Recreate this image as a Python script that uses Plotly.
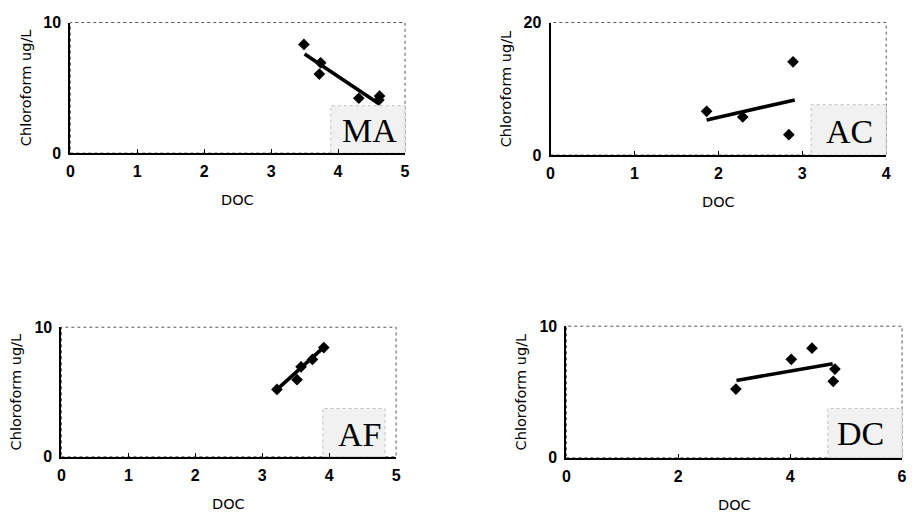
import plotly.graph_objects as go

W, H = 912, 519

# ---- data ----
ma_doc = [3.49, 3.72, 3.74, 4.31, 4.62, 4.61]
ma_chl = [8.32, 6.05, 6.91, 4.20, 4.37, 4.07]
ma_fit_doc = [3.50, 4.61]
ma_fit_chl = [7.58, 3.78]

ac_doc = [1.86, 2.29, 2.89, 2.84]
ac_chl = [6.60, 5.74, 14.06, 3.07]
ac_fit_doc = [1.86, 2.91]
ac_fit_chl = [5.30, 8.32]

af_doc = [3.22, 3.52, 3.58, 3.75, 3.92]
af_chl = [5.20, 5.95, 6.94, 7.51, 8.43]
af_fit_doc = [3.21, 3.93]
af_fit_chl = [5.15, 8.50]

dc_doc = [3.03, 4.02, 4.39, 4.80, 4.77]
dc_chl = [5.22, 7.48, 8.33, 6.74, 5.81]
dc_fit_doc = [3.04, 4.76]
dc_fit_chl = [5.88, 7.15]

site_labels = ["MA", "AC", "AF", "DC"]
x_ranges = [[0, 5], [0, 4], [0, 5], [0, 6]]
y_ranges = [[0, 10], [0, 20], [0, 10], [0, 10]]
x_ticks = [[0, 1, 2, 3, 4, 5], [0, 1, 2, 3, 4], [0, 1, 2, 3, 4, 5], [0, 2, 4, 6]]
y_ticks = [[0, 10], [0, 20], [0, 10], [0, 10]]
x_title = "DOC"
y_title = "Chloroform ug/L"

panels = [
    (ma_doc, ma_chl, ma_fit_doc, ma_fit_chl),
    (ac_doc, ac_chl, ac_fit_doc, ac_fit_chl),
    (af_doc, af_chl, af_fit_doc, af_fit_chl),
    (dc_doc, dc_chl, dc_fit_doc, dc_fit_chl),
]

# ---- layout geometry (pixels) ----
px_boxes = [  # left, right, top, bottom
    (67, 405, 15, 150),
    (552, 891, 15, 152),
    (58, 396, 330, 464),
    (568, 907, 329, 465),
]
label_boxes = [  # x0, x1, y1 as domain fractions
    (0.778, 1.0, 0.363),
    (0.776, 1.0, 0.38),
    (0.781, 0.967, 0.373),
    (0.779, 1.0, 0.375),
]
label_text_pos = [(0.893, 0.175), (0.892, 0.18), (0.89, 0.175), (0.875, 0.185)]

tick_font = dict(family="Liberation Sans Narrow, Liberation Sans, Arial", size=16,
                 color="black", weight="bold")
title_font = dict(family="DejaVu Sans, Arial", size=14.5, color="black")
label_font = dict(family="Liberation Serif, Times New Roman, serif", size=34,
                  color="black")

fig = go.Figure()
layout = dict(
    width=W, height=H,
    margin=dict(l=0, r=0, t=0, b=0),
    paper_bgcolor="white", plot_bgcolor="white",
    showlegend=False,
)
shapes, annotations = [], []

for i, ((xd, yd, fx, fy), (l, r, t, b)) in enumerate(zip(panels, px_boxes)):
    n = i + 1
    xa = "x" if n == 1 else f"x{n}"
    ya = "y" if n == 1 else f"y{n}"
    xkey = "xaxis" if n == 1 else f"xaxis{n}"
    ykey = "yaxis" if n == 1 else f"yaxis{n}"

    fig.add_trace(go.Scatter(x=fx, y=fy, mode="lines", xaxis=xa, yaxis=ya,
                             line=dict(color="black", width=3.6), hoverinfo="skip"))
    fig.add_trace(go.Scatter(x=xd, y=yd, mode="markers", xaxis=xa, yaxis=ya,
                             marker=dict(symbol="diamond", size=9, color="black"),
                             cliponaxis=False))

    layout[xkey] = dict(
        domain=[l / W, r / W], anchor=ya, range=x_ranges[i],
        tickvals=x_ticks[i], ticks="inside", ticklen=4, tickwidth=1, tickcolor="black",
        showline=True, linecolor="black", linewidth=2, showgrid=False, zeroline=False,
        tickfont=tick_font, fixedrange=True, ticklabelstandoff=3,
    )
    layout[ykey] = dict(
        domain=[1 - b / H, 1 - t / H], anchor=xa, range=y_ranges[i],
        tickvals=y_ticks[i], ticks="", showline=True, linecolor="black", linewidth=2,
        showgrid=False, zeroline=False, tickfont=tick_font, fixedrange=True,
        ticklabelstandoff=4,
    )

    # dotted frame (top/right)
    shapes.append(dict(type="rect", xref=f"{xa} domain", yref=f"{ya} domain",
                       x0=0, x1=1, y0=0, y1=1, layer="below",
                       line=dict(color="#555555", width=1, dash="dot")))
    # site label box
    bx0, bx1, by1 = label_boxes[i]
    shapes.append(dict(type="rect", xref=f"{xa} domain", yref=f"{ya} domain",
                       x0=bx0, x1=bx1, y0=0, y1=by1, layer="below",
                       fillcolor="#f1f1f1", line=dict(color="#c0c0c0", width=1, dash="dot")))
    tx, ty = label_text_pos[i]
    annotations.append(dict(text=site_labels[i], xref=f"{xa} domain", yref=f"{ya} domain",
                            x=tx, y=ty, xanchor="center", yanchor="middle",
                            showarrow=False, font=label_font))
    # axis titles
    annotations.append(dict(text=x_title, xref=f"{xa} domain", yref=f"{ya} domain",
                            x=0.5, y=0, yshift=-47, xanchor="center", yanchor="middle",
                            showarrow=False, font=title_font))
    annotations.append(dict(text=y_title, xref=f"{xa} domain", yref=f"{ya} domain",
                            x=0, y=0.5, xshift=-45, xanchor="center", yanchor="middle",
                            textangle=-90, showarrow=False, font=title_font))

layout["shapes"] = shapes
layout["annotations"] = annotations
fig.update_layout(**layout)
fig.write_html("out.html")
